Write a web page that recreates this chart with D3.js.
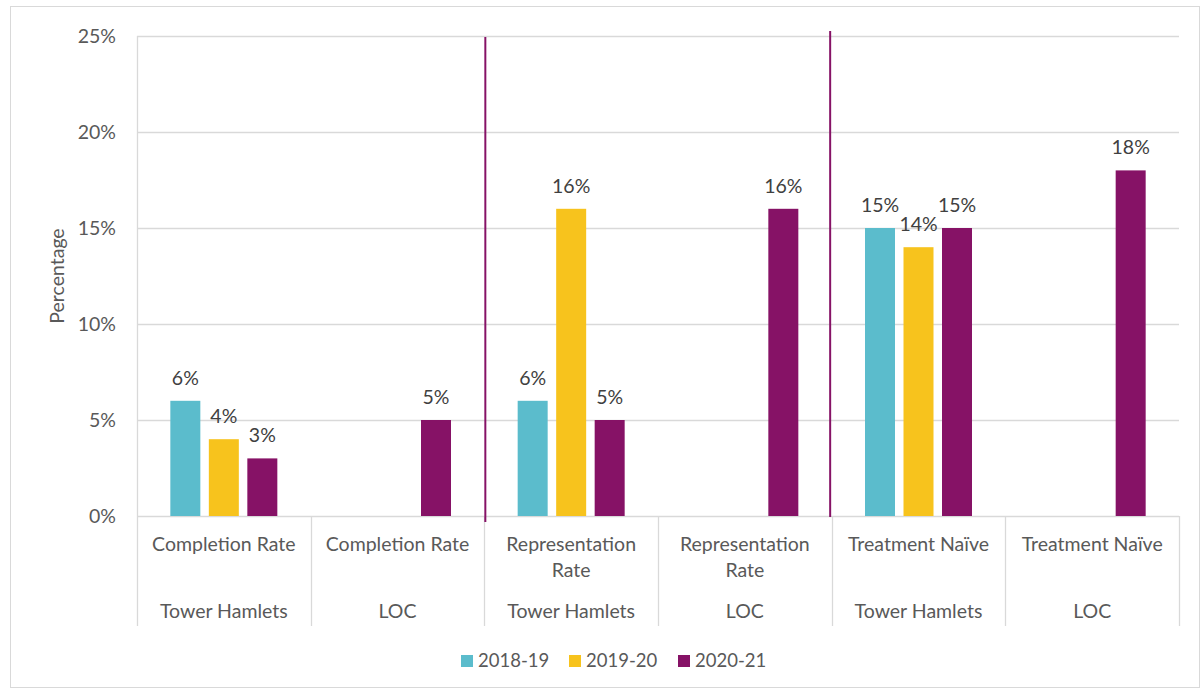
<!DOCTYPE html>
<html>
<head>
<meta charset="utf-8">
<script src="https://cdn.jsdelivr.net/npm/d3@7/dist/d3.min.js"></script>
<style>
  html, body { margin: 0; padding: 0; background: #fff; }
  svg { display: block; font-family: "Lato", "Open Sans", sans-serif; }
</style>
</head>
<body>
<svg id="chart" width="1200" height="690"></svg>
<script>
// Categories: measure (first label row) and area (second label row)
const measures = ["Completion Rate", "Completion Rate", "Representation Rate", "Representation Rate", "Treatment Naïve", "Treatment Naïve"];
const areas = ["Tower Hamlets", "LOC", "Tower Hamlets", "LOC", "Tower Hamlets", "LOC"];

// Series (percent), null where no value is reported
const seriesNames = ["2018-19", "2019-20", "2020-21"];
const values2018 = [6, null, 6, null, 15, null];
const values2019 = [4, null, 16, null, 14, null];
const values2020 = [3, 5, 5, 16, 15, 18];
const seriesColors = ["#5BBCCC", "#F7C31D", "#861266"];

const yTicks = [0, 5, 10, 15, 20, 25];

const series = [values2018, values2019, values2020];

const svg = d3.select("#chart");
const W = 1200, H = 690;
const margin = { left: 137, right: 21, top: 36, bottom: 174 };
const plotW = W - margin.left - margin.right;
const plotH = H - margin.top - margin.bottom;
const FS = 19.5;

// outer frame
svg.append("rect")
  .attr("x", 10.5).attr("y", 6.5)
  .attr("width", W - 11).attr("height", H - 9)
  .attr("fill", "none").attr("stroke", "#d9d9d9").attr("stroke-width", 1);

const g = svg.append("g").attr("transform", `translate(${margin.left},${margin.top})`);

const idx = d3.range(measures.length);
const x = d3.scaleBand().domain(idx).range([0, plotW]).paddingInner(0).paddingOuter(0);
const y = d3.scaleLinear().domain([0, 25]).range([plotH, 0]);

const barW = 30, barStep = 38.5;
const xSub = d3.scaleBand().domain(seriesNames).range([-barStep * 1.5, barStep * 1.5]);

// gridlines
g.append("g").selectAll("line").data(yTicks).join("line")
  .attr("x1", 0).attr("x2", plotW)
  .attr("y1", d => Math.round(y(d)) + 0.5).attr("y2", d => Math.round(y(d)) + 0.5)
  .attr("stroke", "#d9d9d9").attr("stroke-width", 1.3);

// left axis line
g.append("line").attr("x1", 0.5).attr("x2", 0.5).attr("y1", 0).attr("y2", plotH + 110)
  .attr("stroke", "#d9d9d9").attr("stroke-width", 1.3);

// y-axis tick labels
const yAxis = d3.axisLeft(y).tickValues(yTicks).tickFormat(d => d + "%").tickSize(0).tickPadding(21);
const ya = g.append("g").call(yAxis);
ya.select(".domain").remove();
ya.selectAll("text").attr("font-size", FS).attr("fill", "#595959").attr("font-family", "Lato, sans-serif");

// category dividers in the label area
g.append("g").selectAll("line").data(d3.range(1, measures.length + 1)).join("line")
  .attr("x1", d => Math.round(d * x.bandwidth()) + 0.5).attr("x2", d => Math.round(d * x.bandwidth()) + 0.5)
  .attr("y1", plotH).attr("y2", plotH + 110)
  .attr("stroke", "#d9d9d9").attr("stroke-width", 1.3);

// bars and value labels
series.forEach((vals, si) => {
  const data = idx.filter(i => vals[i] != null).map(i => ({ i, v: vals[i] }));
  const cx = d => x(d.i) + x.bandwidth() / 2 + xSub(seriesNames[si]) + xSub.bandwidth() / 2;
  g.append("g").selectAll("rect").data(data).join("rect")
    .attr("x", d => cx(d) - barW / 2)
    .attr("y", d => y(d.v))
    .attr("width", barW)
    .attr("height", d => plotH - y(d.v))
    .attr("fill", seriesColors[si]);
  g.append("g").selectAll("text").data(data).join("text")
    .attr("x", d => cx(d))
    .attr("y", d => y(d.v) - 16)
    .attr("text-anchor", "middle")
    .attr("font-size", FS).attr("fill", "#404040")
    .text(d => d.v + "%");
});

// separators between measure groups
[[2, 1, 6], [4, -1.5, 1]].forEach(([b, dx, ext]) => {
  const bx = b * x.bandwidth() + dx;
  g.append("line")
    .attr("x1", bx).attr("x2", bx)
    .attr("y1", b === 2 ? 1 : -5).attr("y2", plotH + ext)
    .attr("stroke", "#861266").attr("stroke-width", 2);
});

// category labels (measure; long names break onto two lines)
idx.forEach(i => {
  const t = g.append("text")
    .attr("x", x(i) + x.bandwidth() / 2)
    .attr("text-anchor", "middle")
    .attr("font-size", FS).attr("fill", "#595959");
  const lines = measures[i].startsWith("Representation") ? measures[i].split(" ") : [measures[i]];
  lines.forEach((ln, k) => {
    t.append("tspan").attr("x", x(i) + x.bandwidth() / 2).attr("y", plotH + 35 + k * 26).text(ln);
  });
  g.append("text")
    .attr("x", x(i) + x.bandwidth() / 2).attr("y", plotH + 102)
    .attr("text-anchor", "middle")
    .attr("font-size", FS).attr("fill", "#595959")
    .text(areas[i]);
});

// y-axis title
svg.append("text")
  .attr("transform", `translate(64,${margin.top + plotH / 2}) rotate(-90)`)
  .attr("text-anchor", "middle")
  .attr("font-size", FS).attr("fill", "#595959")
  .text("Percentage");

// legend
const legend = svg.append("g").attr("transform", "translate(461,655)");
const legX = [0, 108, 217];
seriesNames.forEach((n, i) => {
  const lg = legend.append("g").attr("transform", `translate(${legX[i]},0)`);
  lg.append("rect").attr("width", 12).attr("height", 12).attr("fill", seriesColors[i]);
  lg.append("text").attr("x", 17).attr("y", 12).attr("font-size", 18.5).attr("fill", "#595959").text(n);
});
</script>
</body>
</html>
